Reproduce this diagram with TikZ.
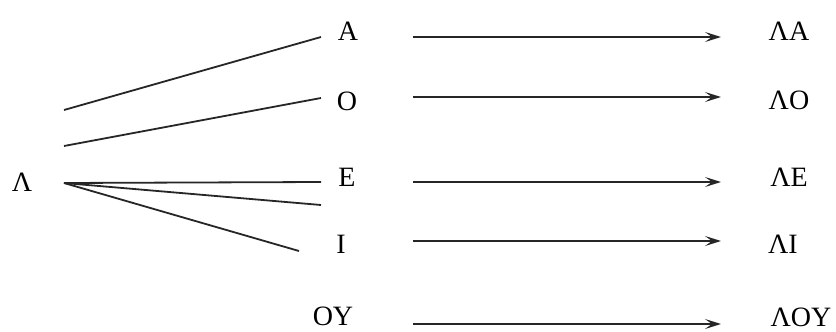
\documentclass[tikz,border=0pt]{standalone}
\usepackage{fontspec}
\setmainfont{Liberation Serif}
\usetikzlibrary{arrows.meta}
\begin{document}
\begin{tikzpicture}[x=1pt,y=-1pt,
  lbl/.style={font=\fontsize{28}{28}\selectfont, inner sep=0pt, anchor=center},
  stroke/.style={line width=1.8pt, black!85},
  derive/.style={stroke, -{Stealth[length=16pt,width=10pt,inset=7pt]}}]
\useasboundingbox (0,0) rectangle (836,332);
% source and first-column letters
\node[lbl] (L) at (22,182) {Λ};
\coordinate (s1) at (64,110);
\coordinate (s2) at (64,146);
\coordinate (s3) at (64,183);
\node[lbl] (A) at (348,31) {A};
\node[lbl] (O) at (347,101) {O};
\node[lbl] (E) at (347,177) {E};
\node[lbl] (I) at (341,244) {I};
\node[lbl] (OY) at (333,316) {OY};
% loose ends of the fan
\coordinate (a1) at (321,37);
\coordinate (o1) at (321,98);
\coordinate (e1) at (321,182);
\coordinate (e2) at (321,205);
\coordinate (i1) at (299,251);
\draw[stroke] (s1) -- (a1);
\draw[stroke] (s2) -- (o1);
\draw[stroke] (s3) -- (e1);
\draw[stroke] (s3) -- (e2);
\draw[stroke] (s3) -- (i1);
% results
\node[lbl] (LA) at (789,31) {ΛA};
\node[lbl] (LO) at (789,100) {ΛO};
\node[lbl] (LE) at (789,177) {ΛE};
\node[lbl] (LI) at (783,244) {ΛI};
\node[lbl] (LOY) at (801,317) {ΛOY};
% arrows
\coordinate (ta) at (413,37);  \coordinate (ha) at (721,37);
\coordinate (to) at (413,97);  \coordinate (ho) at (721,97);
\coordinate (te) at (413,182); \coordinate (he) at (721,182);
\coordinate (ti) at (413,241); \coordinate (hi) at (721,241);
\coordinate (ty) at (413,324); \coordinate (hy) at (721,324);
\draw[derive] (ta) -- (ha);
\draw[derive] (to) -- (ho);
\draw[derive] (te) -- (he);
\draw[derive] (ti) -- (hi);
\draw[derive] (ty) -- (hy);
\end{tikzpicture}
\end{document}
